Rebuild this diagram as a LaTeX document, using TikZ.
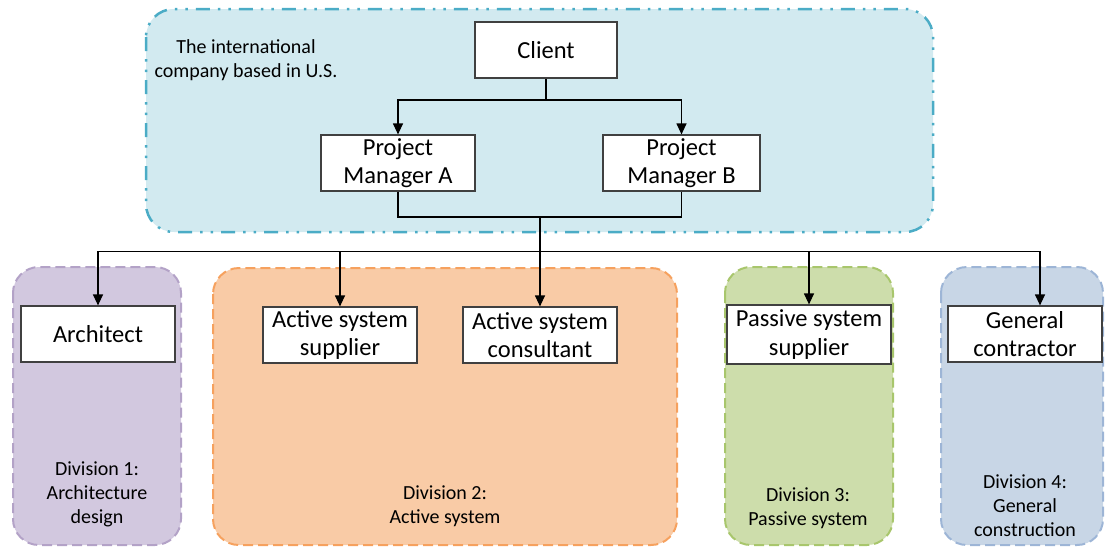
\documentclass[tikz,border=0pt]{standalone}
\usepackage{fontspec}
\setmainfont{Carlito}
\usetikzlibrary{arrows.meta}
\definecolor{bluefill}{HTML}{D2EAF0}
\definecolor{bluedraw}{HTML}{4BACC6}
\definecolor{purpfill}{HTML}{D2C8DF}
\definecolor{purpdraw}{HTML}{B3A2C7}
\definecolor{orfill}{HTML}{F9CBA6}
\definecolor{ordraw}{HTML}{F6A15E}
\definecolor{grfill}{HTML}{CDDDAB}
\definecolor{grdraw}{HTML}{A8C66C}
\definecolor{gbfill}{HTML}{C8D6E6}
\definecolor{gbdraw}{HTML}{9DB5D6}
\definecolor{boxline}{HTML}{404040}
\tikzset{
  rolebox/.style={draw=boxline, line width=1.2pt, fill=white, inner sep=0pt,
    minimum height=56pt, align=center,
    font=\fontsize{24.5pt}{28.5pt}\selectfont},
  lbl/.style={inner sep=0pt, align=center, font=\fontsize{20pt}{24pt}\selectfont},
  divbox/.style={line width=2pt, dash pattern=on 10pt off 5pt, rounded corners=26pt},
  conn/.style={line width=1.2pt, draw=black},
  arr/.style={conn, -{Triangle[length=11pt,width=10pt]}}
}
\begin{document}
\begin{tikzpicture}[x=1pt,y=-1pt]
\useasboundingbox (0,0) rectangle (1105,547);
% group backgrounds
\draw[line width=2.5pt, draw=bluedraw, fill=bluefill, rounded corners=28pt,
  dash pattern=on 14pt off 8pt on 2.5pt off 8pt on 2.5pt off 8pt]
  (146,9) rectangle (933,232);
\draw[divbox, draw=purpdraw, fill=purpfill] (13,267) rectangle (181,545);
\draw[divbox, draw=ordraw, fill=orfill] (213,268) rectangle (677,545);
\draw[divbox, draw=grdraw, fill=grfill] (725,267) rectangle (893,545);
\draw[divbox, draw=gbdraw, fill=gbfill] (941,267) rectangle (1103,545);
% labels
\node[lbl] (lblco) at (246,60) {The international\\company based in U.S.};
\node[lbl] (lbl1) at (97,494) {Division 1:\\Architecture\\design};
\node[lbl] (lbl2) at (445,506) {Division 2:\\Active system};
\node[lbl] (lbl3) at (808,508) {Division 3:\\Passive system};
\node[lbl] (lbl4) at (1025,506) {Division 4:\\General\\construction};
% role boxes
\node[rolebox, minimum width=142pt] (client) at (546,50) {Client};
\node[rolebox, minimum width=154pt] (pma) at (398,163) {Project\\Manager A};
\node[rolebox, minimum width=157pt] (pmb) at (681.5,163) {Project\\Manager B};
\node[rolebox, minimum width=154pt] (arch) at (98,334) {Architect};
\node[rolebox, minimum width=154pt] (ass) at (340,335) {Active system\\supplier};
\node[rolebox, minimum width=154pt] (cons) at (540,335) {Active system\\consultant};
\node[rolebox, minimum width=164pt, minimum height=59pt] (pss) at (809,334.5) {Passive system\\supplier};
\node[rolebox, minimum width=154pt] (gc) at (1025,334) {General\\contractor};
% connectors
\coordinate (csplit) at (546,100);
\coordinate (pmjoin) at (540,217);
\coordinate (bus) at (540,251.5);
\draw[conn] (client.south) -- (csplit);
\draw[arr] (csplit) -| (pma.north);
\draw[arr] (csplit) -| (pmb.north);
\draw[conn] (pma.south) |- (pmjoin) -| (pmb.south);
\draw[arr] (pmjoin) -- (cons.north);
\draw[arr] (bus) -| (arch.north);
\draw[arr] (bus) -| (ass.north);
\draw[arr] (bus) -| (pss.north);
\draw[arr] (bus) -| ([xshift=15pt]gc.north);
\end{tikzpicture}
\end{document}
